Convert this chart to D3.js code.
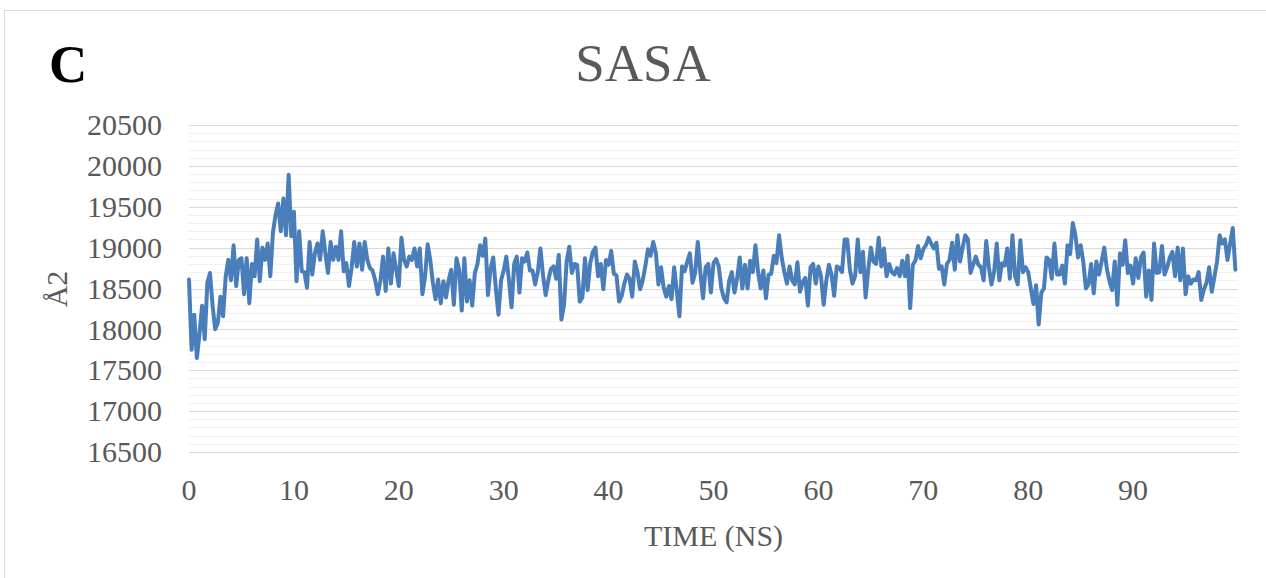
<!DOCTYPE html>
<html>
  <head>
    <meta charset="utf-8" />
    <style>
      body,
      html {
        width: 100%;
        height: 100%;
        margin: 0;
        padding: 0;
        overflow: hidden;
        background: #fff;
      }

      svg {
        display: block;
      }

      text {
        font-family: "Liberation Serif", "Times New Roman", serif;
      }
    </style>
  </head>
  <body>
    <script src="https://cdn.jsdelivr.net/npm/d3@7/dist/d3.min.js"></script>
    <script>
      const width = 1266;
      const height = 578;

      const timeStep = 0.25;
      const sasa = [
        18610, 17750, 18180, 17650, 17950, 18290, 17880, 18570, 18690, 18290,
        18000, 18080, 18400, 18160, 18650, 18850, 18600, 19030, 18530, 18850,
        18870, 18430, 18870, 18320, 18800, 18650, 19100, 18590, 19000, 18850,
        19050, 18650, 19180, 19400, 19540, 19200, 19600, 19150, 19890, 19140,
        19440, 18590, 19200, 18710, 18700, 18510, 19070, 18670, 18930, 19050,
        18850, 19200, 18930, 18690, 19070, 18850, 19010, 18850, 19200, 18710,
        18810, 18530, 18750, 19070, 18770, 19050, 18730, 19070, 18850, 18750,
        18720, 18600, 18430, 18600, 18890, 18470, 18990, 18560, 18930, 18730,
        18530, 19120, 18850, 18770, 18890, 18850, 18990, 18770, 18990, 18430,
        18640, 19040, 18850, 18570, 18370, 18610, 18320, 18590, 18390, 18600,
        18730, 18300, 18870, 18730, 18230, 18870, 18340, 18600, 18290, 18690,
        18800, 19030, 18900, 19110, 18420, 18740, 18880, 18500, 18180, 18600,
        18720, 18890, 18600, 18270, 18800, 18890, 18450, 18870, 18830, 18940,
        18720, 18720, 18550, 18700, 18990, 18660, 18420, 18600, 18740, 18770,
        18620, 18910, 18120, 18300, 18830, 19010, 18690, 18800, 18790, 18340,
        18390, 18870, 18480, 18810, 18950, 19000, 18650, 18800, 18490, 18850,
        18790, 18960, 18680, 18660, 18340, 18410, 18560, 18670, 18620, 18400,
        18830, 18700, 18490, 18600, 18770, 18980, 18900, 19070, 18940, 18550,
        18760, 18510, 18400, 18530, 18370, 18760, 18470, 18160, 18770, 18710,
        18830, 18930, 18570, 18690, 19070, 18690, 18380, 18760, 18800, 18450,
        18810, 18860, 18770, 18500, 18380, 18330, 18600, 18700, 18450, 18620,
        18880, 18500, 18790, 18500, 18840, 18700, 19030, 18700, 18500, 18720,
        18380, 18670, 18680, 18900, 18810, 19150, 18880, 18700, 18560, 18770,
        18600, 18550, 18820, 18460, 18580, 18630, 18290, 18760, 18800, 18560,
        18770, 18650, 18300, 18590, 18790, 18670, 18410, 18770, 18750, 18700,
        19100, 19100, 18730, 18560, 18650, 19100, 18700, 18950, 18390, 18730,
        19000, 18830, 18800, 19120, 18770, 18990, 18650, 18800, 18700, 18670,
        18750, 18650, 18840, 18650, 18900, 18260, 18790, 18840, 19020, 18870,
        18980, 19030, 19120, 19050, 18990, 19060, 18740, 18770, 18550, 18800,
        18850, 19060, 18730, 19150, 18830, 19000, 19150, 19100, 18690, 18790,
        18890, 18790, 18760, 18600, 19080, 18760, 18550, 18700, 19050, 18600,
        18810, 18780, 18990, 18620, 19150, 18650, 18550, 19090, 18700, 18760,
        18700, 18500, 18310, 18540, 18060, 18450, 18500, 18880, 18850, 18620,
        19050, 18670, 18670, 18780, 18560, 19030, 18920, 19300, 19150, 18880,
        19030, 18830, 18500, 18550, 18800, 18440, 18830, 18670, 18830, 19000,
        18740, 18590, 18480, 18830, 18300, 18930, 18790, 19090, 18690, 18780,
        18560, 18870, 18630, 18880, 18940, 18400, 18720, 18360, 19050, 18690,
        18700, 19020, 18670, 18760, 18880, 18950, 18650, 19000, 18600, 18990,
        18430, 18650, 18560, 18610, 18600, 18700, 18360, 18490, 18570, 18760,
        18460, 18640, 18830, 19150, 19050, 19100, 18850, 19050, 19240, 18730,
      ];

      const yTicks = [16500, 17000, 17500, 18000, 18500, 19000, 19500, 20000, 20500];
      const xTicks = [0, 10, 20, 30, 40, 50, 60, 70, 80, 90];
      const minorStep = 100;

      const data = sasa.map((v, i) => ({ t: i * timeStep, v: v }));

      const plot = { left: 189, right: 1238, top: 125, bottom: 452 };

      const x = d3.scaleLinear().domain([0, 100]).range([plot.left, plot.right]);
      const y = d3.scaleLinear().domain([16500, 20500]).range([plot.bottom, plot.top]);

      const svg = d3
        .select("body")
        .append("svg")
        .attr("width", width)
        .attr("height", height);

      // chart area border (runs off the right and bottom edge)
      svg
        .append("rect")
        .attr("x", 4.5)
        .attr("y", 10.5)
        .attr("width", 1400)
        .attr("height", 700)
        .attr("fill", "#fff")
        .attr("stroke", "#d9d9d9")
        .attr("stroke-width", 1);

      // minor gridlines
      const minorTicks = d3.range(16500, 20500 + 1, minorStep).filter((d) => d % 500 !== 0);
      svg
        .append("g")
        .selectAll("line")
        .data(minorTicks)
        .enter()
        .append("line")
        .attr("x1", plot.left)
        .attr("x2", plot.right)
        .attr("y1", (d) => Math.round(y(d)) + 0.5)
        .attr("y2", (d) => Math.round(y(d)) + 0.5)
        .attr("stroke", "#f0f0f0")
        .attr("stroke-width", 1.2);

      // major gridlines
      svg
        .append("g")
        .selectAll("line")
        .data(yTicks)
        .enter()
        .append("line")
        .attr("x1", plot.left)
        .attr("x2", plot.right)
        .attr("y1", (d) => Math.round(y(d)) + 0.5)
        .attr("y2", (d) => Math.round(y(d)) + 0.5)
        .attr("stroke", "#d9d9d9")
        .attr("stroke-width", 1.2);

      // y tick labels
      svg
        .append("g")
        .selectAll("text")
        .data(yTicks)
        .enter()
        .append("text")
        .attr("x", 162)
        .attr("y", (d) => y(d))
        .attr("dy", "0.34em")
        .attr("text-anchor", "end")
        .attr("font-size", "30px")
        .attr("fill", "#595959")
        .text((d) => d);

      // x tick labels
      svg
        .append("g")
        .selectAll("text")
        .data(xTicks)
        .enter()
        .append("text")
        .attr("x", (d) => x(d))
        .attr("y", 500)
        .attr("text-anchor", "middle")
        .attr("font-size", "30px")
        .attr("fill", "#595959")
        .text((d) => d);

      // the series
      const line = d3
        .line()
        .x((d) => x(d.t))
        .y((d) => y(d.v));

      svg
        .append("path")
        .datum(data)
        .attr("d", line)
        .attr("fill", "none")
        .attr("stroke", "#4a7ebb")
        .attr("stroke-width", 4)
        .attr("stroke-linejoin", "round")
        .attr("stroke-linecap", "round");

      // titles
      svg
        .append("text")
        .attr("x", 643)
        .attr("y", 81)
        .attr("text-anchor", "middle")
        .attr("font-size", "53px")
        .attr("fill", "#595959")
        .text("SASA");

      svg
        .append("text")
        .attr("x", 49)
        .attr("y", 82)
        .attr("font-size", "53px")
        .attr("font-weight", "bold")
        .attr("fill", "#000")
        .text("C");

      svg
        .append("text")
        .attr("x", (plot.left + plot.right) / 2)
        .attr("y", 546)
        .attr("text-anchor", "middle")
        .attr("font-size", "30px")
        .attr("fill", "#595959")
        .text("TIME (NS)");

      svg
        .append("text")
        .attr("transform", "translate(67,289) rotate(-90)")
        .attr("text-anchor", "middle")
        .attr("font-size", "30px")
        .attr("fill", "#595959")
        .text("Å2");
    </script>
  </body>
</html>
